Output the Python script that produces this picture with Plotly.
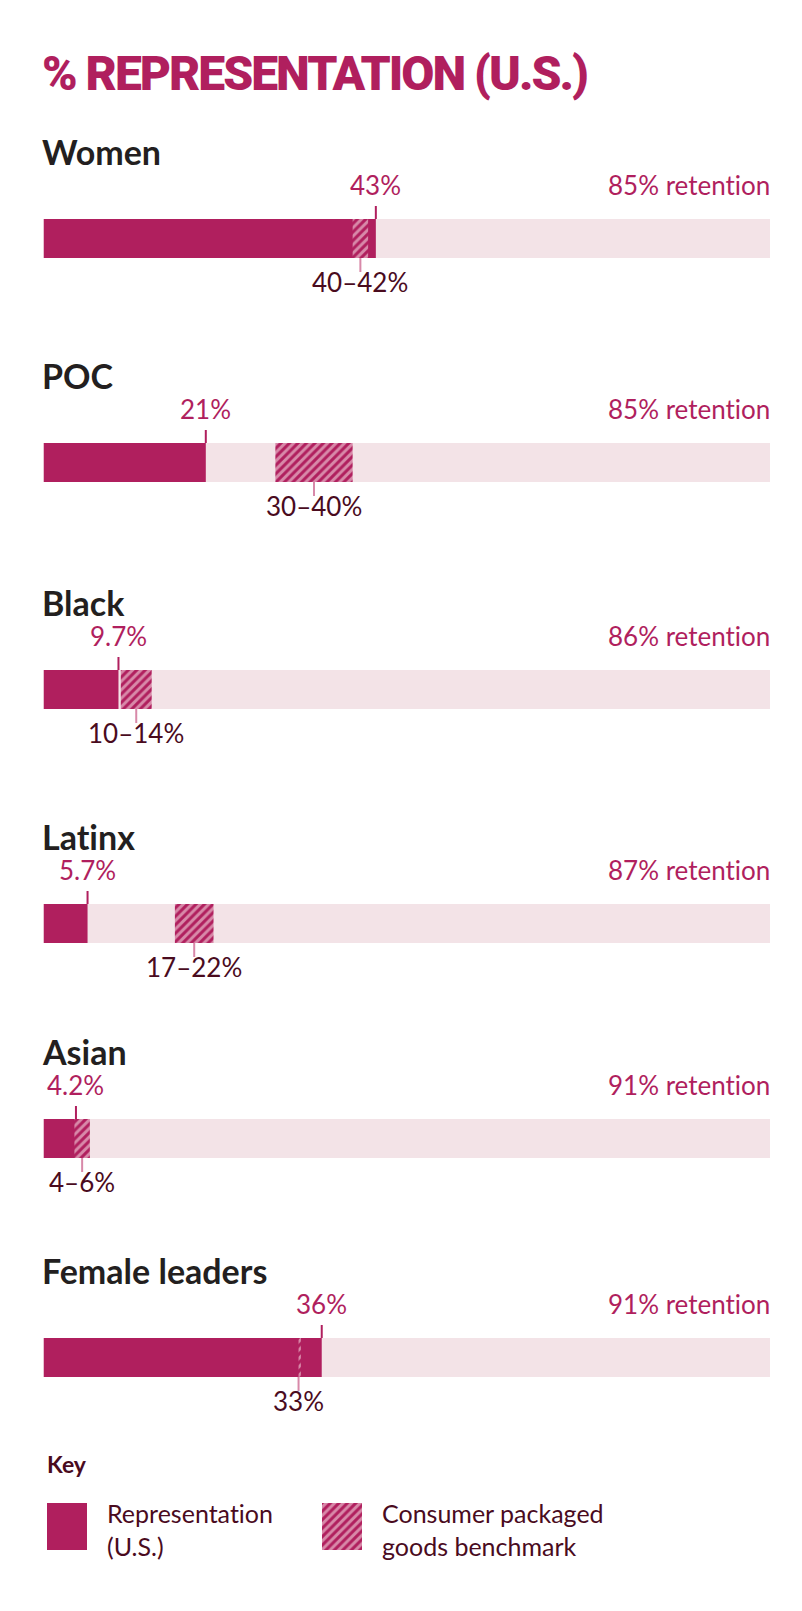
import plotly.graph_objects as go

# data
groups = ["Women", "POC", "Black", "Latinx", "Asian", "Female leaders"]
representation = [43, 21, 9.7, 5.7, 4.2, 36]
rep_labels = ["43%", "21%", "9.7%", "5.7%", "4.2%", "36%"]
bench_low = [40, 30, 10, 17, 4, 33]
bench_high = [42, 40, 14, 22, 6, 33]
bench_labels = ["40–42%", "30–40%", "10–14%", "17–22%", "4–6%", "33%"]
retention = [85, 85, 86, 87, 91, 91]
track_max = 94  # light background track length in %

MAG = "#B01F5E"
TRACK = "#F3E3E7"
PINK = "#D889A9"
DARK = "#231F20"
MAROON = "#4A0B1E"
FONT = "Lato, 'Open Sans', sans-serif"
TITLE_FONT = "Roboto, 'Liberation Sans', sans-serif"

# page is offset by the default 8px body margin
PAD = 8
W, H = 802 - 2 * PAD, 1611 - 2 * PAD
X0, X1 = 43.5, 770
bar_tops = [219, 443, 670, 904, 1119, 1338]
BAR_H = 39


def py(p):
    return 1 - (p - PAD) / H


def px(p):
    return (p - PAD) / W


def txt(s, extra=""):
    # no "ti" ligatures, the original face has none
    return f'<span style="font-variant-ligatures:none;{extra}">{s}</span>'


def hatch(color=MAG):
    return dict(color=color, line=dict(width=0),
                pattern=dict(shape="/", fgcolor=color, bgcolor=PINK,
                             size=6, solidity=0.5, fillmode="replace"))


fig = go.Figure()
annotations = []
shapes = []
axes = {}

for i, g in enumerate(groups):
    n = i + 1
    xa, ya = ("x", "y") if n == 1 else (f"x{n}", f"y{n}")
    top = bar_tops[i]
    axes["xaxis" if n == 1 else f"xaxis{n}"] = dict(
        domain=[px(X0), px(X1)], range=[0, track_max], visible=False,
        fixedrange=True, anchor=ya)
    axes["yaxis" if n == 1 else f"yaxis{n}"] = dict(
        domain=[py(top + BAR_H), py(top)], range=[-0.5, 0.5], visible=False,
        fixedrange=True, anchor=xa)

    fig.add_trace(go.Bar(x=[track_max], y=[0], orientation="h", width=1,
                         marker=dict(color=TRACK, line=dict(width=0)),
                         xaxis=xa, yaxis=ya, hoverinfo="skip"))
    fig.add_trace(go.Bar(x=[representation[i]], y=[0], orientation="h", width=1,
                         marker=dict(color=MAG, line=dict(width=0)),
                         xaxis=xa, yaxis=ya, name="Representation (U.S.)"))
    span = max(bench_high[i] - bench_low[i], 0.3)
    fig.add_trace(go.Bar(x=[span], base=[bench_low[i]], y=[0], orientation="h",
                         width=1, marker=hatch(), xaxis=xa, yaxis=ya,
                         name="Consumer packaged goods benchmark"))

    mid = (bench_low[i] + bench_high[i]) / 2
    # tick marks
    shapes.append(dict(type="line", xref=xa, yref=f"{ya} domain",
                       x0=representation[i], x1=representation[i],
                       y0=1, y1=1 + 13 / BAR_H, line=dict(color=MAG, width=2)))
    shapes.append(dict(type="line", xref=xa, yref=f"{ya} domain",
                       x0=mid, x1=mid, y0=0, y1=-14 / BAR_H,
                       line=dict(color=PINK, width=2)))

    # group title
    annotations.append(dict(text=txt(f"<b>{g}</b>"), x=px(40), y=py(top - 45),
                            xref="paper", yref="paper", xanchor="left",
                            yanchor="bottom", showarrow=False,
                            font=dict(family=FONT, size=34, color=DARK)))
    # representation value
    annotations.append(dict(text=txt(rep_labels[i]), x=representation[i],
                            y=py(top - 16), xref=xa, yref="paper",
                            xanchor="center", yanchor="bottom", showarrow=False,
                            font=dict(family=FONT, size=26, color=MAG)))
    # retention
    annotations.append(dict(text=txt(f"{retention[i]}% retention"), x=px(X1 + 2),
                            y=py(top - 16), xref="paper", yref="paper",
                            xanchor="right", yanchor="bottom", showarrow=False,
                            font=dict(family=FONT, size=26, color=MAG)))
    # benchmark label
    annotations.append(dict(text=txt(bench_labels[i]), x=mid,
                            y=py(top + BAR_H + 6), xref=xa, yref="paper",
                            xanchor="center", yanchor="top", showarrow=False,
                            font=dict(family=FONT, size=26, color=MAROON)))

# key swatches as tiny axes
key_swatches = [("Representation<br>(U.S.)", 47, dict(color=MAG, line=dict(width=0))),
                ("Consumer packaged<br>goods benchmark", 322, hatch())]
for k, (label, left, marker) in enumerate(key_swatches):
    n = 7 + k
    axes[f"xaxis{n}"] = dict(domain=[px(left), px(left + 40)], range=[0, 1],
                             visible=False, fixedrange=True, anchor=f"y{n}")
    axes[f"yaxis{n}"] = dict(domain=[py(1550), py(1503)], range=[-0.5, 0.5],
                             visible=False, fixedrange=True, anchor=f"x{n}")
    fig.add_trace(go.Bar(x=[1], y=[0], orientation="h", width=1, marker=marker,
                         xaxis=f"x{n}", yaxis=f"y{n}", hoverinfo="skip"))
    annotations.append(dict(text=txt(label), x=px(left + 58), y=py(1496),
                            xref="paper", yref="paper", xanchor="left",
                            yanchor="top", align="left", showarrow=False,
                            font=dict(family=FONT, size=25, color=MAROON)))

annotations.append(dict(text="<b>Key</b>", x=px(45), y=py(1480),
                        xref="paper", yref="paper", xanchor="left",
                        yanchor="bottom", showarrow=False,
                        font=dict(family=FONT, size=23, color=MAROON)))

annotations.append(dict(text=txt("% REPRESENTATION (U.S.)", "letter-spacing:-2px"),
                        x=px(40), y=py(104),
                        xref="paper", yref="paper", xanchor="left",
                        yanchor="bottom", showarrow=False,
                        font=dict(family=TITLE_FONT, size=48, color=MAG, weight=900)))

fig.update_layout(width=W, height=H, margin=dict(l=0, r=0, t=0, b=0),
                  paper_bgcolor="white", plot_bgcolor="white",
                  barmode="overlay", showlegend=False,
                  annotations=annotations, shapes=shapes, **axes)

fig.write_html("out.html")
